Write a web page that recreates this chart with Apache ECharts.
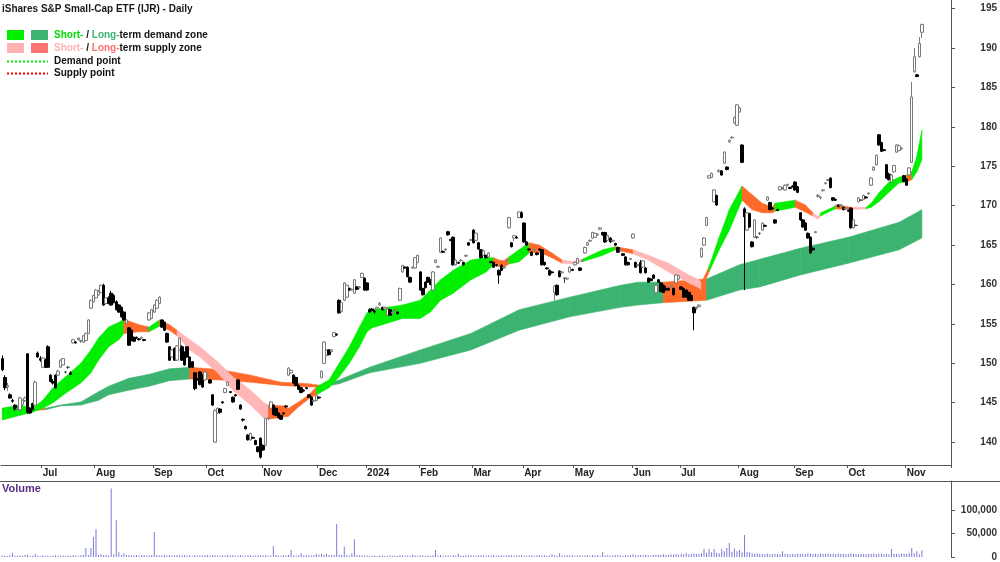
<!DOCTYPE html>
<html>
<head>
<meta charset="utf-8">
<script src="https://cdn.jsdelivr.net/npm/echarts@6/dist/echarts.min.js"></script>
<style>
  html, body { margin: 0; padding: 0; background: #fff; }
  #chart { width: 1000px; height: 562px; }
</style>
</head>
<body>
<div id="chart"></div>
<script>
// ASX trading days (weekends and exchange holidays skipped)
const holidays = ['2023-06-12', '2023-12-25', '2023-12-26', '2024-01-01', '2024-01-26',
  '2024-03-29', '2024-04-01', '2024-04-25', '2024-06-10'];
const firstDay = '2023-06-08';
const dayCount = 375;
const monthNames = ['Jan', 'Feb', 'Mar', 'Apr', 'May', 'Jun', 'Jul', 'Aug', 'Sep', 'Oct', 'Nov', 'Dec'];

const dates = [];
let t = new Date(firstDay + 'T00:00:00Z');
while (dates.length < dayCount) {
  const s = t.toISOString().slice(0, 10);
  const wd = t.getUTCDay();
  if (wd !== 0 && wd !== 6 && holidays.indexOf(s) < 0) dates.push(s);
  t = new Date(t.getTime() + 86400000);
}

// daily candles: [open, high, low, close]
const candles = [
  [150.6,151.0,149.0,149.2],[148.2,148.5,146.6,146.9],[147.0,147.5,146.5,147.2],[146.0,146.2,145.5,145.6],[145.3,145.5,145.0,145.2],
  [144.7,144.8,144.0,144.2],[144.2,144.5,144.0,144.3],[144.1,145.8,144.0,145.6],[144.8,145.4,144.6,145.3],[145.3,145.8,145.1,145.6],
  [151.2,151.3,143.6,143.8],[144.3,144.4,143.6,143.7],[144.9,145.0,144.0,144.1],[144.7,147.8,144.6,147.6],[151.3,151.5,150.7,150.8],
  [150.6,150.9,150.2,150.4],[149.5,150.8,149.4,150.7],[150.4,150.6,149.4,149.5],[152.1,152.3,149.4,149.5],[148.5,148.6,147.6,147.7],
  [147.7,148.0,147.3,147.5],[148.5,148.6,146.8,146.9],[148.5,149.2,148.4,149.0],[149.5,150.5,149.4,150.4],[149.8,150.7,149.7,150.6],
  [148.9,149.0,148.7,148.9],[149.5,149.6,149.3,149.5],[148.8,149.0,148.5,148.6],[152.6,153.1,152.5,153.0],[152.7,152.8,152.5,152.6],
  [153.0,153.3,152.9,153.2],[152.8,153.0,152.6,152.9],[152.7,153.6,152.6,153.5],[152.9,153.9,152.8,153.8],[153.8,155.6,153.7,155.5],
  [157.0,158.1,156.9,158.0],[157.8,158.7,157.7,158.6],[158.3,159.4,158.2,159.3],[158.7,159.3,158.6,159.1],[159.0,160.0,158.9,159.9],
  [159.9,160.1,157.3,157.4],[157.6,158.4,157.5,158.3],[158.3,158.5,157.5,157.6],[158.9,159.2,157.3,157.4],[158.6,158.8,157.6,157.7],
  [157.8,158.0,156.7,156.8],[157.4,157.5,156.4,156.5],[157.1,157.2,155.8,155.9],[156.5,156.6,155.4,155.5],[155.1,155.6,155.0,155.5],
  [154.5,154.6,152.2,152.3],[154.2,154.3,152.8,152.9],[153.3,153.4,152.7,152.8],[153.3,153.4,153.1,153.2],[153.1,153.2,152.9,153.0],
  [153.2,153.4,153.1,153.3],[153.0,153.1,152.8,152.9],[154.4,154.6,154.3,154.5],[155.5,156.5,155.4,156.4],[155.7,156.9,155.6,156.8],
  [156.5,157.5,156.4,157.4],[157.0,158.1,156.9,158.0],[157.6,158.5,157.5,158.4],[155.5,155.6,154.5,154.6],[155.2,155.3,154.1,154.2],
  [153.8,153.9,152.6,152.7],[152.1,152.2,150.3,150.4],[150.8,151.8,150.7,151.7],[151.9,152.0,150.3,150.4],[150.4,152.3,150.3,152.2],
  [151.7,153.3,151.6,153.2],[152.1,152.3,150.3,150.4],[151.4,151.5,149.7,149.8],[152.1,152.2,150.7,150.8],[150.8,150.9,149.4,149.5],
  [150.2,150.3,149.4,149.5],[148.8,148.9,146.6,146.8],[148.0,148.1,147.8,147.9],[148.9,149.0,147.2,147.3],[148.5,148.6,146.9,147.0],
  [147.9,149.0,147.8,148.9],[148.4,148.6,148.3,148.5],[147.9,148.0,147.4,147.5],[146.0,146.1,144.6,144.7],[140.0,144.2,139.9,144.0],
  [143.7,144.4,143.6,144.3],[144.2,144.3,143.6,143.8],[145.1,145.2,144.9,145.0],[146.3,146.9,146.2,146.8],[147.2,147.7,147.1,147.6],
  [146.4,146.5,146.2,146.3],[145.7,145.8,145.0,145.1],[146.0,146.1,145.8,145.9],[147.9,148.0,146.6,146.7],[144.7,144.8,144.1,144.2],
  [142.9,143.0,142.6,142.8],[142.0,142.1,141.6,141.7],[140.9,141.0,140.2,140.3],[140.3,141.2,140.2,141.1],[140.6,140.7,140.4,140.5],
  [140.2,140.3,139.6,139.7],[139.4,139.5,138.7,138.8],[140.5,140.6,137.9,138.1],[139.6,139.7,138.9,139.0],[139.6,143.1,139.5,143.0],
  [143.0,143.2,142.8,143.1],[144.3,145.2,144.2,145.1],[144.7,144.8,143.4,143.5],[144.3,144.4,143.3,143.4],[143.7,143.8,143.0,143.1],
  [143.4,143.5,142.8,142.9],[143.7,143.8,143.5,143.6],[144.6,144.7,144.3,144.5],[148.5,149.5,148.4,149.4],[148.8,149.2,148.7,149.1],
  [148.5,148.6,147.4,147.5],[148.2,148.3,147.1,147.2],[147.2,147.3,146.6,146.7],[146.9,147.0,146.2,146.3],[146.6,146.7,146.4,146.5],
  [146.9,147.0,146.7,146.8],[146.0,146.1,145.6,145.7],[145.7,145.8,144.6,144.7],[145.2,145.4,145.1,145.3],[145.3,146.0,145.2,145.9],
  [145.7,145.8,145.5,145.6],[148.2,149.1,148.1,149.0],[150.0,152.8,149.9,152.7],[151.0,151.8,150.9,151.7],[151.7,151.8,151.0,151.1],
  [151.5,151.8,151.4,151.7],[153.4,154.0,153.3,153.9],[153.7,153.8,153.5,153.6],[158.0,158.1,156.3,156.4],[156.6,157.8,156.5,157.7],
  [158.0,160.3,157.9,160.2],[158.4,160.0,158.3,159.9],[159.5,159.6,159.2,159.3],[159.3,159.5,159.2,159.4],[158.9,160.7,158.8,160.6],
  [159.7,159.8,159.3,159.4],[159.6,159.8,159.5,159.7],[160.9,161.5,160.8,161.4],[160.8,160.9,159.2,159.3],[160.2,160.3,159.2,159.3],
  [156.8,157.0,156.4,156.5],[156.9,157.0,156.6,156.7],[156.6,156.8,156.3,156.5],[156.9,157.2,156.8,157.1],[157.4,157.8,157.3,157.6],
  [157.1,157.2,156.7,156.8],[156.9,157.2,156.8,157.1],[156.1,157.0,156.0,156.9],[156.8,156.9,156.0,156.1],[156.4,156.6,156.3,156.5],
  [156.7,156.9,156.6,156.8],[156.5,156.6,156.2,156.3],[158.0,159.6,157.9,159.5],[161.6,162.5,161.5,162.4],[162.2,162.3,162.0,162.1],
  [162.2,162.3,160.9,161.0],[160.9,161.0,160.2,160.3],[162.1,162.3,162.0,162.2],[162.1,163.5,162.0,163.4],[162.8,163.8,162.7,163.7],
  [161.6,161.7,159.2,159.3],[159.5,159.6,158.6,158.7],[160.3,160.4,159.5,159.6],[160.9,161.0,160.2,160.3],[160.6,160.7,159.9,160.0],
  [159.3,161.7,159.2,161.6],[162.8,163.2,162.7,163.1],[162.2,162.4,162.1,162.3],[164.1,166.0,164.0,165.9],[164.2,164.3,164.0,164.1],
  [164.4,164.6,164.3,164.5],[166.7,166.8,166.2,166.3],[165.7,165.8,165.5,165.6],[166.0,166.1,162.4,162.5],[162.5,163.2,162.4,163.1],
  [162.8,162.9,162.6,162.7],[163.0,163.2,162.9,163.1],[162.8,162.9,162.4,162.5],[163.6,163.8,163.5,163.7],[165.3,165.4,164.9,165.0],
  [165.6,165.8,165.5,165.7],[166.9,167.0,165.2,165.3],[165.6,166.6,165.5,166.5],[165.3,165.4,164.4,164.5],[164.4,164.5,163.3,163.4],
  [163.7,164.4,163.6,164.3],[163.7,163.8,163.3,163.4],[163.5,164.1,163.4,164.0],[162.9,163.0,162.7,162.8],[162.8,162.9,162.1,162.2],
  [162.5,162.6,162.3,162.4],[161.8,161.9,160.1,161.2],[162.4,162.6,161.7,161.8],[162.1,162.3,162.0,162.2],[163.0,163.2,162.9,163.1],
  [167.2,168.6,167.1,168.5],[165.3,165.4,164.7,164.8],[165.9,166.3,165.5,166.2],[166.0,166.2,165.8,165.9],[168.5,169.3,168.4,169.2],
  [169.1,169.3,168.4,168.5],[167.8,167.9,165.3,165.4],[165.4,165.5,164.9,165.0],[164.5,164.6,164.3,164.4],[164.1,164.2,163.6,163.7],
  [164.3,164.6,164.2,164.4],[164.0,164.1,163.7,163.8],[164.5,164.6,164.3,164.4],[164.4,164.5,162.4,162.5],[162.8,162.9,162.4,162.5],
  [162.1,162.2,161.9,162.0],[161.8,161.9,161.1,161.2],[161.6,161.7,161.4,161.5],[159.0,159.9,158.0,159.8],[159.9,160.0,158.6,158.7],
  [161.7,161.8,160.9,161.0],[161.5,161.7,161.4,161.6],[160.8,160.9,160.2,160.8],[160.7,160.9,160.6,160.8],[161.6,162.3,161.5,162.2],
  [161.9,162.0,161.7,161.8],[162.5,162.9,162.4,162.8],[162.7,163.4,162.6,163.3],[162.1,162.2,161.7,161.8],[163.0,163.2,162.9,163.1],
  [164.0,164.8,163.9,164.7],[165.0,165.4,164.9,165.3],[165.5,165.7,165.4,165.6],[165.9,166.7,165.8,166.6],[166.0,166.6,165.9,166.5],
  [166.3,166.5,166.2,166.4],[167.0,167.3,166.9,167.2],[166.6,166.7,166.2,166.3],[166.6,166.7,165.3,165.4],[165.6,166.3,165.5,166.2],
  [165.9,166.0,165.3,165.4],[165.5,165.7,165.4,165.6],[165.2,165.3,164.9,165.0],[164.7,164.8,164.0,164.1],[164.3,164.5,164.2,164.4],
  [163.9,164.0,163.6,163.7],[163.5,163.6,162.4,162.5],[162.8,162.9,162.4,162.5],[163.2,163.4,163.1,163.3],[165.9,166.5,165.8,166.4],
  [162.8,162.9,162.1,162.2],[162.4,162.6,162.3,162.5],[162.8,163.1,161.4,161.5],[162.2,163.1,162.1,163.0],[162.1,162.2,161.4,161.5],
  [160.8,160.9,160.2,160.3],[160.7,160.8,160.4,160.5],[161.2,161.3,160.7,160.8],[159.0,160.0,158.9,159.9],[160.6,160.7,160.2,160.3],
  [160.2,160.3,159.0,159.1],[159.9,160.0,158.9,159.0],[159.5,159.8,159.2,159.3],[159.5,159.6,159.2,159.3],[159.7,159.9,159.6,159.8],
  [159.5,159.6,158.6,158.7],[160.2,161.3,160.1,161.2],[160.7,161.2,160.6,161.1],[159.7,159.8,159.3,159.4],[159.5,159.6,158.3,158.4],
  [159.3,159.4,158.3,158.4],[159.0,159.1,157.9,158.0],[158.6,158.7,157.9,158.0],[157.1,157.2,154.2,156.4],[157.0,157.2,156.8,157.1],
  [157.2,157.5,157.1,157.4],[163.5,164.7,163.4,164.6],[165.0,166.0,164.9,165.9],[167.5,168.6,167.4,168.5],[173.5,173.9,173.4,173.8],
  [173.6,174.2,173.5,174.1],[170.5,172.1,170.4,172.0],[171.3,171.4,170.0,170.1],[174.3,174.6,174.2,174.5],[174.4,174.5,173.8,173.9],
  [175.4,176.9,175.3,176.8],[174.9,175.0,174.5,174.6],[178.1,178.4,178.0,178.3],[178.6,178.8,178.5,178.7],[180.5,181.3,180.4,181.2],
  [180.2,182.9,180.1,182.8],[181.9,182.5,181.8,182.4],[177.7,177.8,175.4,175.5],[169.6,169.8,159.3,168.6],[166.9,169.2,166.8,169.1],
  [169.0,169.1,167.2,167.3],[165.4,165.5,164.7,164.8],[166.0,168.3,165.9,168.2],[166.0,166.1,165.8,166.0],[166.5,166.6,166.3,166.5],
  [166.9,167.9,166.8,167.8],[167.5,167.6,167.3,167.4],[170.7,171.2,170.6,171.1],[170.4,170.5,169.4,169.5],[169.7,169.8,169.5,169.6],
  [168.2,168.3,167.7,167.8],[169.5,169.6,169.3,169.4],[172.0,172.5,171.9,172.4],[172.2,172.3,172.1,172.2],[172.0,172.7,171.9,172.6],
  [172.6,172.8,172.5,172.7],[172.3,172.4,172.1,172.2],[172.5,172.6,172.3,172.4],[173.0,173.1,171.9,172.0],[172.4,172.5,171.6,171.7],
  [169.1,169.2,168.1,168.2],[168.2,168.3,167.2,167.3],[167.8,167.9,166.8,166.9],[166.5,166.6,165.8,165.9],[166.0,166.1,163.9,164.0],
  [164.6,164.7,164.3,164.4],[166.6,166.8,166.5,166.7],[171.2,171.5,171.0,171.3],[171.0,171.2,170.8,171.1],[171.9,172.1,171.8,172.0],
  [172.8,173.0,172.7,172.9],[173.2,173.4,173.1,173.3],[173.5,173.6,172.2,172.3],[171.0,171.1,170.6,170.7],[170.8,170.9,170.6,170.7],
  [170.1,170.2,169.8,169.9],[170.0,170.2,169.9,170.1],[169.8,169.9,169.4,169.5],[169.6,169.8,169.5,169.7],[169.4,169.5,169.2,169.3],
  [169.7,169.8,167.1,167.2],[167.2,168.3,167.1,168.2],[167.5,167.6,167.4,167.5],[170.5,171.1,170.4,171.0],[170.7,170.8,170.6,170.7],
  [170.8,171.4,170.7,171.3],[171.1,171.2,170.9,171.0],[171.5,171.7,171.4,171.6],[172.6,173.6,172.5,173.5],[174.5,175.0,174.4,174.9],
  [175.2,176.5,175.1,176.4],[179.0,179.1,177.6,177.7],[178.0,178.1,176.8,176.9],[177.1,177.2,176.9,177.0],[175.2,175.3,173.4,173.5],
  [174.0,174.2,173.2,173.3],[173.0,174.0,172.9,173.9],[174.3,175.2,174.2,175.1],[176.8,177.8,176.7,177.7],[177.0,177.8,176.9,177.6],
  [177.2,177.4,177.1,177.3],[173.8,173.9,173.0,173.1],[173.4,173.5,172.5,172.6],[173.9,174.9,173.8,174.8],[175.5,185.7,175.4,183.8],
  [187.0,190.0,186.9,188.9],[186.6,186.7,186.3,186.4],[188.9,191.4,188.8,190.6],[192.0,193.1,191.3,193.0]
];

const volumes = [
  3000,2500,2000,3500,9000,2500,2000,3000,2500,4000,
  5000,2000,2500,7000,3000,2000,3500,2500,3000,2000,
  2500,3000,2000,2500,3500,2000,3000,2500,4000,3000,
  2500,3500,5000,19000,4000,19000,42500,59000,5000,6000,
  4000,5000,3000,146000,6000,78000,10000,4000,8000,5000,
  4000,3500,3000,4500,3000,3500,4000,3000,3500,4000,
  53000,4000,3000,3500,4500,3000,4000,3500,3000,4000,
  3000,3500,4000,3000,3500,2500,4000,3000,3500,3000,
  4000,3500,3000,4000,3500,3000,2500,3500,3000,4000,
  3000,3500,2500,3000,4000,3000,2500,3500,3000,2500,
  3000,3500,4000,3000,3500,2500,3000,23000,4000,3000,
  2500,3500,3000,4000,15000,3000,2500,3500,8000,3000,
  4000,3500,3000,4500,7000,5000,7000,5000,7000,4000,
  3500,4000,70000,5000,4000,22000,3500,3000,8000,38000,
  4000,3000,3500,2500,3000,2000,2500,3000,2000,2500,
  3000,2500,2000,3500,2500,3000,2000,4000,3000,2500,
  3000,2500,5000,3000,2500,3500,3000,2000,3000,2500,
  3500,15000,3000,4000,2500,3000,3500,2500,4000,3000,
  7000,3000,2500,3500,3000,4000,2500,3000,3500,4000,
  3000,2500,3500,3000,4000,2500,3000,3500,2500,3000,
  4000,3500,3000,2500,3500,4000,3000,2500,3000,3500,
  2500,3000,4000,3000,3500,2500,3000,6000,3500,3000,
  8000,3000,2500,3500,3000,4000,2500,3000,3500,2500,
  3000,3500,2500,4000,3000,3500,2500,11000,3000,3500,
  2500,3000,3500,4000,3000,2500,3500,3000,4000,6000,
  3000,3500,4000,3000,4500,3500,3000,4000,5000,4500,
  5000,6000,4500,5000,6000,5500,6500,5000,7000,6000,
  9000,6000,7000,8000,6500,7000,8000,17000,9000,17000,
  10000,17000,9000,8000,17000,12000,19000,30000,11000,18000,
  12000,15000,10000,47000,11000,10000,8000,7000,8000,6500,
  7000,6000,7500,6500,6000,7000,6500,6000,12000,7000,
  6000,6500,7000,6000,7500,6500,7000,6000,8000,7500,
  6500,7000,6000,7500,6500,7000,8000,6500,7000,6000,
  7500,6500,7000,6000,6500,8000,7000,6500,6000,7000,
  6500,6000,7000,6500,7500,6000,7000,8000,6500,7000,
  6000,17000,7000,6500,6000,7500,7000,6500,8000,19000,
  8000,12000,6000,14000
];

// zone knots: [day index, upper, lower, colour of the stretch that starts here]
// G short demand, P short supply, L long demand, O supply overlap (orange)
const shortZone = [
  [0,144.3,142.8,'G'],[7,144.7,143.4,'G'],[12,144.3,143.8,'G'],[16,145.3,144.3,'G'],[20,146.9,145.0,'G'],
  [25,148.3,146.2,'G'],[31,150.0,147.5,'G'],[35,151.7,148.8,'G'],[38,153.2,150.4,'G'],[42,154.6,152.1,'G'],
  [46,155.2,153.0,'G'],[48,155.6,153.8,'O'],[54,154.9,154.0,'O'],[58,154.6,154.0,'G'],[62,155.5,154.7,'O'],
  [66,154.9,154.2,'O'],[69,154.2,153.5,'P'],[74,153.0,151.7,'P'],[78,152.1,150.8,'P'],[85,150.2,148.8,'P'],
  [91,148.3,146.6,'P'],[98,146.6,144.7,'P'],[103,145.1,143.1,'P'],[105,144.7,142.9,'O'],[111,144.6,143.2,'O'],
  [113,144.3,143.3,'O'],[117,145.1,144.5,'O'],[121,146.0,145.5,'O'],[124,147.0,146.0,'G'],[129,147.9,146.9,'G'],
  [133,150.0,148.3,'G'],[137,152.1,150.0,'G'],[141,154.6,152.1,'G'],[144,156.4,154.0,'G'],[146,156.8,154.5,'G'],
  [152,157.1,155.1,'G'],[158,157.4,155.7,'G'],[165,158.0,155.7,'G'],[169,159.3,156.5,'G'],[173,160.6,158.0,'G'],
  [178,161.8,158.9,'G'],[185,163.1,160.6,'G'],[191,163.4,161.6,'G'],[194,163.4,162.5,'O'],[196,163.1,162.3,'O'],
  [198,163.0,162.2,'O'],[200,163.5,162.6,'G'],[204,164.4,162.9,'G'],[208,165.3,164.0,'O'],[212,165.0,164.1,'O'],
  [217,164.0,163.4,'O'],[221,163.1,162.7,'P'],[225,162.9,162.6,'P'],[229,163.2,162.9,'G'],[237,164.4,163.7,'G'],
  [242,164.8,164.4,'O'],[249,164.4,163.9,'P'],[255,163.7,163.1,'P'],[263,162.7,161.6,'P'],[271,161.2,160.2,'P'],
  [275,160.6,159.6,'P'],[276,160.2,159.3,'O'],[279,162.3,161.6,'G'],[283,166.0,164.4,'G'],[287,169.5,166.9,'G'],
  [292,172.5,170.7,'O'],[296,171.4,169.5,'O'],[300,170.3,169.1,'O'],[304,169.8,169.1,'O'],[305,170.3,169.3,'G'],
  [313,170.7,169.8,'O'],[317,170.1,169.2,'O'],[320,169.1,168.7,'P'],[322,168.6,168.3,'P'],[323,169.1,168.7,'G'],
  [328,169.8,169.5,'G'],[329,170.1,169.6,'O'],[335,169.8,169.5,'P'],[341,169.8,169.6,'G'],[343,170.3,169.8,'G'],
  [346,171.6,170.5,'G'],[350,173.0,171.7,'G'],[354,173.6,172.9,'G'],[357,173.9,173.0,'O'],[359,174.3,173.3,'G'],
  [361,176.2,174.3,'G'],[363,179.6,175.8,'G']
];

const longZone = [
  [0,144.3,143.9,'O'],[17,144.3,144.1,'L'],[23,144.7,144.6,'L'],[31,145.1,144.7,'L'],[38,146.4,145.3,'L'],
  [42,147.1,146.0,'L'],[50,148.1,146.6,'L'],[58,148.6,147.1,'L'],[66,149.3,147.8,'L'],[74,149.5,148.0,'O'],
  [86,149.2,147.9,'O'],[98,148.5,147.6,'O'],[110,147.6,147.2,'O'],[121,147.4,147.0,'O'],[126,147.2,147.0,'L'],
  [133,147.9,147.4,'L'],[145,149.5,148.8,'L'],[165,151.7,150.0,'L'],[185,153.8,151.7,'L'],[204,156.8,154.2,'L'],
  [224,158.4,155.9,'L'],[244,159.9,157.1,'L'],[251,160.3,157.4,'L'],[261,160.3,157.7,'O'],[278,160.7,158.0,'L'],
  [291,162.5,159.3,'L'],[299,163.2,159.7,'L'],[315,164.6,161.2,'L'],[334,166.0,162.7,'L'],[354,167.9,164.4,'L'],
  [363,169.5,165.9,'L']
];

const priceTicks = [140, 145, 150, 155, 160, 165, 170, 175, 180, 185, 190, 195];
const volumeTicks = [0, 50000, 100000];

const zoneColors = { G: '#00ee00', P: '#ffb6b6', L: '#3cb371', O: '#ff6a2a' };
const FONT = "'Liberation Sans', Arial, sans-serif";

function isMonthStart(i) {
  return i > 0 && dates[i].slice(5, 7) !== dates[i - 1].slice(5, 7);
}

function zoneSeries(knots, z) {
  const segs = [];
  for (let k = 0; k < knots.length - 1; k++) {
    const a = knots[k], b = knots[k + 1];
    segs.push([a[0], a[1], a[2], b[0], b[1], b[2]]);
  }
  return {
    type: 'custom',
    silent: true,
    z: z,
    encode: { x: [0, 3], y: [1, 2, 4, 5] },
    data: segs,
    renderItem: function (params, api) {
      const p1 = api.coord([api.value(0), api.value(1)]);
      const p2 = api.coord([api.value(3), api.value(4)]);
      const p3 = api.coord([api.value(3), api.value(5)]);
      const p4 = api.coord([api.value(0), api.value(2)]);
      const col = zoneColors[knots[params.dataIndex][3]];
      return {
        type: 'polygon',
        shape: { points: [p1, p2, p3, p4] },
        style: { fill: col, stroke: col, lineWidth: 0.6 }
      };
    }
  };
}

function legendText(y, first, firstColor, second, secondColor, rest) {
  const base = { fontFamily: FONT, fontWeight: 'bold', fontSize: 10 };
  return {
    type: 'text', x: 54, y: y,
    style: {
      text: '{a|' + first + '}{k| / }{b|' + second + '}{k|' + rest + '}',
      verticalAlign: 'middle',
      rich: {
        a: Object.assign({ fill: firstColor }, base),
        b: Object.assign({ fill: secondColor }, base),
        k: Object.assign({ fill: '#111' }, base)
      }
    }
  };
}

const chart = echarts.init(document.getElementById('chart'));

chart.setOption({
  animation: false,
  backgroundColor: '#fff',
  grid: [
    { left: 1, right: 48, top: 0, height: 465 },
    { left: 1, right: 48, top: 481, bottom: 5 }
  ],
  xAxis: [
    {
      type: 'category', gridIndex: 0, data: dates, boundaryGap: true,
      axisLine: { lineStyle: { color: '#555', width: 1 } },
      axisTick: { show: true, interval: isMonthStart, length: 3, lineStyle: { color: '#555' } },
      axisLabel: {
        interval: isMonthStart, align: 'left', margin: 3,
        color: '#222', fontFamily: FONT, fontWeight: 'bold', fontSize: 10,
        formatter: function (v) {
          const m = +v.slice(5, 7) - 1;
          return m === 0 ? v.slice(0, 4) : monthNames[m];
        }
      },
      splitLine: { show: false }
    },
    {
      type: 'category', gridIndex: 1, data: dates, boundaryGap: true,
      axisLine: { show: false }, axisTick: { show: false }, axisLabel: { show: false }
    }
  ],
  yAxis: [
    {
      type: 'value', gridIndex: 0, position: 'right', min: 137.1, max: 196.1,
      axisLine: { show: true, lineStyle: { color: '#555' } },
      axisTick: { show: true, customValues: priceTicks, length: 4, lineStyle: { color: '#555' } },
      axisLabel: {
        customValues: priceTicks, align: 'right', margin: 46,
        color: '#333', fontFamily: FONT, fontWeight: 'bold', fontSize: 10
      },
      splitLine: { show: false }
    },
    {
      type: 'value', gridIndex: 1, position: 'right', min: 0, max: 161700,
      axisLine: { show: true, lineStyle: { color: '#555' } },
      axisTick: { show: true, customValues: volumeTicks, length: 4, lineStyle: { color: '#555' } },
      axisLabel: {
        customValues: volumeTicks, align: 'right', margin: 46,
        color: '#333', fontFamily: FONT, fontWeight: 'bold', fontSize: 10,
        formatter: function (v) { return String(v).replace(/\B(?=(\d{3})+(?!\d))/g, ','); }
      },
      splitLine: { show: false }
    }
  ],
  series: [
    zoneSeries(longZone, 1),
    zoneSeries(shortZone, 2),
    {
      type: 'candlestick', xAxisIndex: 0, yAxisIndex: 0, z: 3,
      barWidth: 3,
      data: candles.map(function (c) { return [c[0], c[3], c[2], c[1]]; }),
      itemStyle: {
        color: '#ffffff', borderColor: '#7a7a7a',
        color0: '#000000', borderColor0: '#000000',
        borderColorDoji: '#444', borderWidth: 1
      }
    },
    {
      type: 'bar', xAxisIndex: 1, yAxisIndex: 1, barWidth: 1,
      data: volumes,
      itemStyle: { color: '#7b7bd8' }
    }
  ],
  graphic: [
    { type: 'line', shape: { x1: 0, y1: 481.5, x2: 1000, y2: 481.5 }, style: { stroke: '#555', lineWidth: 1 } },
    {
      type: 'text', x: 2, y: 9,
      style: { text: 'iShares S&P Small-Cap ETF (IJR) - Daily', fill: '#1a1a1a', verticalAlign: 'middle',
        fontFamily: FONT, fontWeight: 'bold', fontSize: 10 }
    },
    { type: 'rect', shape: { x: 7, y: 30, width: 17, height: 10 }, style: { fill: '#00ee00' } },
    { type: 'rect', shape: { x: 31, y: 30, width: 17, height: 10 }, style: { fill: '#3cb371' } },
    { type: 'rect', shape: { x: 7, y: 43, width: 17, height: 10 }, style: { fill: '#ffb3b3' } },
    { type: 'rect', shape: { x: 31, y: 43, width: 17, height: 10 }, style: { fill: '#ff7272' } },
    legendText(35, 'Short-', '#00dd00', 'Long-', '#3cb371', 'term demand zone'),
    legendText(48, 'Short-', '#ffb3b3', 'Long-', '#ff7070', 'term supply zone'),
    { type: 'line', shape: { x1: 7, y1: 61.5, x2: 48, y2: 61.5 }, style: { stroke: '#00ee00', lineWidth: 2, lineDash: [2, 2] } },
    { type: 'line', shape: { x1: 7, y1: 73.5, x2: 48, y2: 73.5 }, style: { stroke: '#ff0000', lineWidth: 2, lineDash: [2, 2] } },
    {
      type: 'text', x: 54, y: 61,
      style: { text: 'Demand point', fill: '#111', verticalAlign: 'middle', fontFamily: FONT, fontWeight: 'bold', fontSize: 10 }
    },
    {
      type: 'text', x: 54, y: 73,
      style: { text: 'Supply point', fill: '#111', verticalAlign: 'middle', fontFamily: FONT, fontWeight: 'bold', fontSize: 10 }
    },
    {
      type: 'text', x: 2, y: 489,
      style: { text: 'Volume', fill: '#5a2d86', verticalAlign: 'middle', fontFamily: FONT, fontWeight: 'bold', fontSize: 11 }
    }
  ]
});
</script>
</body>
</html>
